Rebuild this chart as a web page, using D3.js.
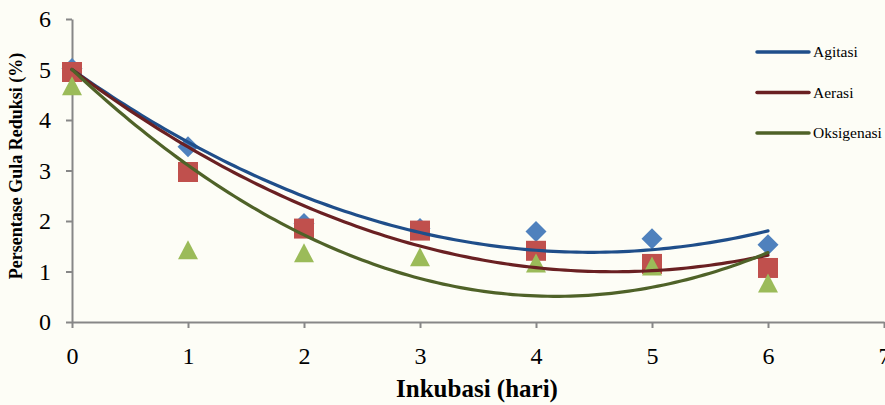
<!DOCTYPE html>
<html>
<head>
<meta charset="utf-8">
<script src="https://cdn.jsdelivr.net/npm/d3@7"></script>
<style>
  html, body { margin: 0; padding: 0; background: #fdfdf6; }
  svg { display: block; }
  text { font-family: "Liberation Serif", "Times New Roman", serif; fill: #000; }
</style>
</head>
<body>
<svg id="chart" width="885" height="405"></svg>
<script>
// Incubation days
const days = [0, 1, 2, 3, 4, 5, 6];
// Reducing sugar (%) per treatment
const agitasi    = [5.02, 3.47, 1.95, 1.85, 1.79, 1.65, 1.53];
const aerasi     = [4.95, 2.97, 1.85, 1.81, 1.41, 1.15, 1.07];
const oksigenasi = [4.68, 1.43, 1.37, 1.29, 1.17, 1.11, 0.77];
const seriesNames = ["Agitasi", "Aerasi", "Oksigenasi"];
const xTicks = [0, 1, 2, 3, 4, 5, 6, 7];
const yTicks = [0, 1, 2, 3, 4, 5, 6];
// Polynomial (order 2) trendlines share a fixed intercept
const trendIntercept = 5;

const series = [
  { name: seriesNames[0], values: agitasi,    marker: "diamond",  fill: "#4f81bd", line: "#1f4e8a" },
  { name: seriesNames[1], values: aerasi,     marker: "square",   fill: "#c0504d", line: "#6a2022" },
  { name: seriesNames[2], values: oksigenasi, marker: "triangle", fill: "#9bbb59", line: "#4f6228" }
];

// Least-squares fit y = c + b x + a x^2 with c fixed
function quadFit(xs, ys, c) {
  let s2 = 0, s3 = 0, s4 = 0, t1 = 0, t2 = 0;
  xs.forEach((x, i) => {
    const r = ys[i] - c;
    s2 += x * x; s3 += x * x * x; s4 += x * x * x * x;
    t1 += x * r; t2 += x * x * r;
  });
  const det = s2 * s4 - s3 * s3;
  const b = (t1 * s4 - s3 * t2) / det;
  const a = (s2 * t2 - s3 * t1) / det;
  return x => c + b * x + a * x * x;
}

const svg = d3.select("#chart");
const x = d3.scaleLinear().domain([0, 7]).range([72, 884]);
const y = d3.scaleLinear().domain([0, 6]).range([322, 19]);
const axisColor = "#878787";

// Axes
const xAxis = svg.append("g").attr("transform", `translate(0,${y(0)})`)
  .call(d3.axisBottom(x).tickValues(xTicks).tickFormat(d3.format("d"))
    .tickSize(6).tickPadding(19).tickSizeOuter(0));
const yAxis = svg.append("g").attr("transform", `translate(${x(0)},0)`)
  .call(d3.axisLeft(y).tickValues(yTicks).tickFormat(d3.format("d"))
    .tickSize(6).tickPadding(15).tickSizeOuter(0));
[xAxis, yAxis].forEach(g => {
  g.select(".domain").attr("stroke", axisColor).attr("stroke-width", 2);
  g.selectAll(".tick line").attr("stroke", axisColor).attr("stroke-width", 2);
  g.selectAll(".tick text")
    .attr("font-family", "Liberation Serif, Times New Roman, serif")
    .attr("font-size", 24).attr("fill", "#000");
});

// Marker shapes, centred on the point (about 20 px across)
const markerPath = {
  diamond: "M0,-10.5L10.5,0L0,10.5L-10.5,0Z",
  square: "M-10,-10H10V10H-10Z",
  triangle: "M0,-9.5L10,9.5L-10,9.5Z"
};
series.forEach(s => {
  svg.append("g").selectAll("path")
    .data(days.map((d, i) => [d, s.values[i]]))
    .join("path")
    .attr("transform", d => `translate(${x(d[0])},${y(d[1])})`)
    .attr("d", markerPath[s.marker])
    .attr("fill", s.fill);
});

// Trendlines
series.forEach(s => {
  const f = quadFit(days, s.values, trendIntercept);
  const pts = d3.range(0, 6.0001, 0.05).map(t => [t, f(t)]);
  svg.append("path")
    .attr("d", d3.line().x(d => x(d[0])).y(d => y(d[1])).curve(d3.curveLinear)(pts))
    .attr("fill", "none")
    .attr("stroke", s.line)
    .attr("stroke-width", 3.2)
    .attr("stroke-linecap", "round");
});

// Legend
const legend = svg.append("g");
series.forEach((s, i) => {
  const ly = 52 + i * 40.5;
  legend.append("line")
    .attr("x1", 757).attr("x2", 809).attr("y1", ly).attr("y2", ly)
    .attr("stroke", s.line).attr("stroke-width", 3.5).attr("stroke-linecap", "round");
  legend.append("text")
    .attr("x", 813).attr("y", ly + 5)
    .attr("font-size", 15.5)
    .text(s.name);
});

// Axis titles
svg.append("text")
  .attr("x", 477).attr("y", 397)
  .attr("text-anchor", "middle")
  .attr("font-size", 25).attr("font-weight", "bold")
  .text("Inkubasi (hari)");
svg.append("text")
  .attr("transform", "translate(22,166) rotate(-90)")
  .attr("text-anchor", "middle")
  .attr("font-size", 18).attr("font-weight", "bold")
  .text("Persentase Gula Reduksi (%)");
</script>
</body>
</html>
